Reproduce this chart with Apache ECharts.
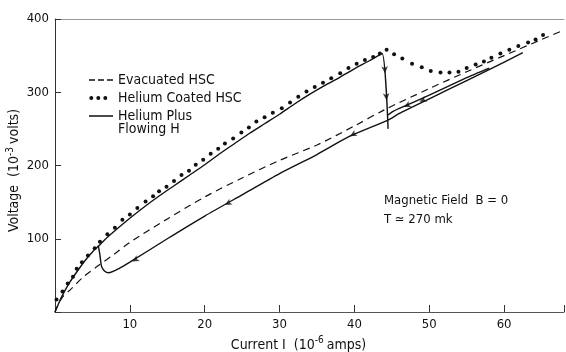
<!DOCTYPE html>
<html><head><meta charset="utf-8">
<script src="https://cdn.jsdelivr.net/npm/echarts@6/dist/echarts.min.js"></script>
<style>html,body{margin:0;padding:0;background:#fff}#c{width:566px;height:352px}</style>
</head><body><div id="c"></div>
<script>
const FONT = "'DejaVu Sans Condensed','Liberation Sans Narrow','DejaVu Sans',sans-serif";

// Evacuated HSC (dashed)
const evacuatedX = [0,0.9,2.2,3.8,5.6,7.8,10,15,20,25,30,35,40,44,50,55,60,65,68];
const evacuatedY = [0,19,32,48,62,78,95,127,157,183,207,228,254,276,305,328,350,372,385];

// Helium Coated HSC (dots)
const coatedX = [0.2,1.0,1.7,2.4,2.9,3.6,4.4,5.3,6.0,7.0,8.0,9.0,10.0,11.0,12.1,13.1,13.9,14.9,15.9,16.9,17.9,18.8,19.8,20.8,21.8,22.7,23.8,24.9,25.9,26.9,28.0,29.1,30.3,31.4,32.5,33.6,34.7,35.8,36.9,38.1,39.2,40.3,41.4,42.5,43.4,44.3,45.3,46.4,47.7,49.0,50.2,51.5,52.7,53.9,55.0,56.2,57.3,58.3,59.5,60.7,61.9,63.2,64.2,65.2];
const coatedY = [17,28,39,48,59,68,77,87,96,106,115,126,133,142,151,158,165,171,179,187,193,201,208,216,223,230,237,245,252,260,266,272,278,286,294,301,307,313,319,326,333,339,344,348,353,358,352,346,339,334,329,327,327,328,333,338,342,347,353,358,363,368,372,378];

// Helium Plus Flowing H (solid): upper branch with drop at I≈44
const upperX = [0,0.5,1,2,3,4,5,5.8,7,8,10,12,14,16,18,20,22,24,26,28,30,32,34,36,38,40,42,43.7,44.5];
const upperY = [0,12,23,41,56,70,82,90,102,111,128,144,159,173,187,201,216,230,244,257,270,284,297,309,320,332,343,353,250];
// lower (return) branch, from jump-back at I≈6 to I≈62
const lowerX = [5.8,6.0,6.2,6.6,7.2,8.5,10,15,20,25,30,35,39.4,44.5,46,50,55,58,62.5];
const lowerY = [90,78,63,56,53.5,59,68,100,131,160,189,215,240,262,271,291,316,331,354];
// second trace of the loop above I≈44
const loopX = [44.5,45,46,50,55,58];
const loopY = [269,273,278,296,320,333];

// direction arrows along the solid trace
const arrowX = [44.1,44.3,10.3,22.7,39.4,46.6,48.7];
const arrowY = [326,289,69,146,240,280,287];
const arrowRot = [184,184,119,119,119,115,115];

const xTicks = [10,20,30,40,50,60];
const yTicks = [100,200,300,400];

const zip = (xs, ys) => xs.map((x, i) => [x, ys[i]]);
const solidData = zip(upperX, upperY).concat(['-'], zip(lowerX, lowerY), ['-'], zip(loopX, loopY));

const speck = 'M0,0h0.05v0.05h-0.05zM24,5h-0.05v-0.05h0.05z';
const dashIcon = 'path://' + speck + 'M0,1.8h6v1.5h-6zM9,1.8h6v1.5h-6zM18,1.8h6v1.5h-6z';
const dotIcon = 'path://' + speck + 'M0.3,2.5a2,2 0 1,0 4,0a2,2 0 1,0 -4,0zM7.3,2.5a2,2 0 1,0 4,0a2,2 0 1,0 -4,0zM14.3,2.5a2,2 0 1,0 4,0a2,2 0 1,0 -4,0z';
const lineIcon = 'path://' + speck + 'M0,1.7h24v1.5h-24z';

const supRich = {s: {fontFamily: FONT, fontSize: 14, color: '#111'},
                 sup: {fontFamily: FONT, fontSize: 10, color: '#111', padding: [0, 3, 8, 0]}};

const chart = echarts.init(document.getElementById('c'), null, {renderer: 'canvas'});
chart.setOption({
  animation: false,
  backgroundColor: '#fff',
  textStyle: {fontFamily: FONT, color: '#111'},
  grid: {left: 55, right: 2, top: 19, bottom: 40, containLabel: false, outerBoundsMode: 'none'},
  legend: {
    orient: 'vertical', left: 89, top: 73, padding: 0, itemWidth: 24, itemHeight: 5, itemGap: 4,
    textStyle: {fontFamily: FONT, fontSize: 14, color: '#111', lineHeight: 14},
    selectedMode: false,
    data: [
      {name: 'Evacuated HSC', icon: dashIcon},
      {name: 'Helium Coated HSC', icon: dotIcon},
      {name: 'Helium Plus Flowing H', icon: lineIcon}
    ],
    formatter: n => n === 'Helium Plus Flowing H' ? 'Helium Plus' : n
  },
  graphic: [
    {type: 'text', left: 118, top: 122, style: {text: 'Flowing H', font: '14px ' + FONT, fill: '#111'}},
    {type: 'text', left: 384, top: 194, style: {text: 'Magnetic Field  B = 0', font: '13px ' + FONT, fill: '#111'}},
    {type: 'text', left: 384, top: 213, style: {text: 'T ≃ 270 mk', font: '13px ' + FONT, fill: '#111'}}
  ],
  xAxis: [{
    type: 'value', min: 0, max: 68, interval: 10,
    name: 'Current I  ({s|10}{sup|-6}{s|amps})', nameLocation: 'middle', nameGap: 22,
    nameTextStyle: {fontFamily: FONT, fontSize: 14, color: '#111', padding: [0, 22, 0, 0], rich: supRich},
    axisLine: {lineStyle: {color: '#555', width: 1}},
    axisTick: {inside: true, length: 7, lineStyle: {color: '#333'}},
    axisLabel: {fontFamily: FONT, fontSize: 13, color: '#111', margin: 6,
      formatter: v => xTicks.includes(v) ? String(v) : ''},
    splitLine: {show: false}
  }, {
    type: 'value', position: 'top', min: 0, max: 68,
    axisLine: {show: true, lineStyle: {color: '#999', width: 1}},
    axisTick: {show: false}, axisLabel: {show: false}, splitLine: {show: false}
  }],
  yAxis: {
    type: 'value', min: 0, max: 400, interval: 100,
    name: 'Voltage  ({s|10}{sup|-3}{s|volts})', nameLocation: 'middle', nameGap: 32, nameMoveOverlap: false,
    nameTextStyle: {fontFamily: FONT, fontSize: 14, color: '#111', padding: [0, 10, 0, 0], rich: supRich},
    axisLine: {show: true, lineStyle: {color: '#333', width: 1}},
    axisTick: {inside: true, length: 6, lineStyle: {color: '#333'}},
    axisLabel: {fontFamily: FONT, fontSize: 13, color: '#111', margin: 6,
      formatter: v => yTicks.includes(v) ? String(v) : ''},
    splitLine: {show: false}
  },
  series: [
    {name: 'Evacuated HSC', type: 'line', data: zip(evacuatedX, evacuatedY), showSymbol: false, smooth: 0.3,
      lineStyle: {color: '#111', width: 1.2, type: [7, 5]}, itemStyle: {color: '#111'}},
    {name: 'Helium Coated HSC', type: 'line', data: zip(coatedX, coatedY), symbol: 'circle', symbolSize: 4,
      showSymbol: true, lineStyle: {width: 0, opacity: 0}, itemStyle: {color: '#111'}},
    {name: 'Helium Plus Flowing H', type: 'line', data: solidData, showSymbol: false, smooth: 0.2, connectNulls: false,
      lineStyle: {color: '#111', width: 1.4}, itemStyle: {color: '#111'}},
    {name: 'arrows', type: 'scatter', symbol: 'arrow', symbolSize: [5, 7],
      data: arrowX.map((x, i) => ({value: [x, arrowY[i]], symbolRotate: arrowRot[i]})),
      itemStyle: {color: '#111'}, z: 5}
  ]
});
</script>
</body></html>
